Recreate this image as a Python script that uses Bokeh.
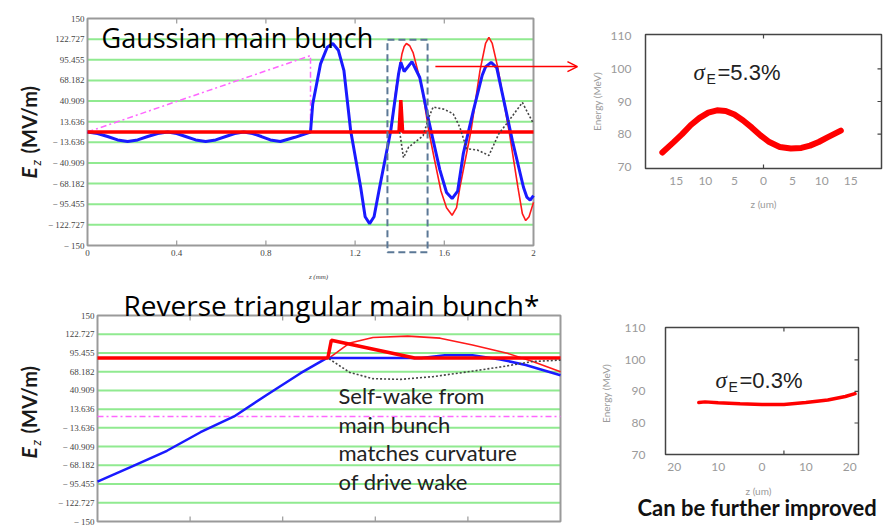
import math
from bokeh.plotting import figure
from bokeh.models import Range1d, Label, Arrow, OpenHead, BoxAnnotation
from bokeh.layouts import column, row
from bokeh.core.properties import value
from bokeh.embed import file_html
from bokeh.resources import INLINE

# ---------------- data ----------------
y_ticks = [-150, -122.727, -95.455, -68.182, -40.909, -13.636,
           13.636, 40.909, 68.182, 95.455, 122.727, 150]
y_tick_labels = ["\u2212 150", "\u2212 122.727", "\u2212 95.455", "\u2212 68.182", "\u2212 40.909",
                 "\u2212 13.636", "13.636", "40.909", "68.182", "95.455", "122.727", "150"]
x_ticks = [0, 0.4, 0.8, 1.2, 1.6, 2]
x_tick_labels = ["0", "0.4", "0.8", "1.2", "1.6", "2"]

# Gaussian main bunch panel
g_blue_x = [0, 0.045, 0.09, 0.135, 0.18, 0.225, 0.27, 0.315, 0.36, 0.40, 0.44, 0.485,
            0.53, 0.575, 0.62, 0.66, 0.70, 0.74, 0.78, 0.82, 0.865, 0.93, 1.0,
            1.01, 1.045, 1.075, 1.10, 1.125, 1.15, 1.18, 1.225, 1.245, 1.265, 1.285, 1.31,
            1.36, 1.395, 1.405, 1.42, 1.455, 1.49, 1.53, 1.58, 1.61, 1.635, 1.66, 1.685,
            1.73, 1.77, 1.785, 1.81, 1.835, 1.86, 1.905, 1.955, 1.97, 1.985, 2.0]
g_blue_y = [0, -2, -6, -10.5, -12.5, -10.5, -6, -2, 0, -2, -6, -10.5,
            -12.5, -10.5, -6, -2, 0, -2, -6, -10.5, -12.5, -7, 0,
            37, 90, 112, 117, 108, 81, 2, -73, -112, -121, -112, -73,
            2, 77, 92, 80, 93, 72, 15, -50, -80, -88, -78, -29,
            28, 75, 86, 92, 85, 51, -11, -73, -86, -90, -84]
g_red_thin_x = [1.36, 1.385, 1.41, 1.42, 1.43, 1.445, 1.46, 1.50, 1.53, 1.555, 1.585,
                1.61, 1.635, 1.655, 1.67, 1.72, 1.76, 1.785, 1.80, 1.815, 1.84, 1.89,
                1.93, 1.95, 1.965, 1.98, 2.0]
g_red_thin_y = [2, 60, 103, 113, 117, 114, 105, 59, 2, -35, -78,
                -100, -110, -100, -73, 2, 81, 117, 125, 117, 85, 2,
                -73, -108, -117, -112, -93]
g_red_thick_x = [0, 1.397, 1.405, 1.413, 2.0]
g_red_thick_y = [0, 0, 42, 0, 0]
g_dot_x = [1.40, 1.417, 1.44, 1.505, 1.53, 1.55, 1.60, 1.64, 1.67, 1.70, 1.75, 1.80,
           1.845, 1.89, 1.95, 2.0]
g_dot_y = [0, -34, -20, -5, 19, 33, 30, 24, 6, -22, -24, -31,
           -2, 15, 39, 11]
g_mag_x = [0, 1.0, 1.0]
g_mag_y = [0, 101, 0]

# Reverse triangular main bunch panel
r_blue_x = [0, 0.155, 0.30, 0.445, 0.59, 0.734, 0.877, 0.99, 1.2, 1.4, 1.5, 1.62,
            1.74, 1.85, 1.93, 2.0]
r_blue_y = [-92, -69, -47, -20, 3, 35, 66, 88, 88, 88, 92, 92,
            86, 78, 70, 63]
r_red_thick_x = [0, 0.995, 1.01, 1.37, 2.0]
r_red_thick_y = [88, 88, 114, 88, 88]
r_red_thin_x = [1.0, 1.09, 1.19, 1.34, 1.48, 1.62, 1.77, 1.88, 2.0]
r_red_thin_y = [88, 110, 118, 120, 117, 107, 95, 83, 68]
r_dot_x = [1.0, 1.09, 1.19, 1.31, 1.45, 1.60, 1.74, 1.88, 2.0]
r_dot_y = [87, 67, 58, 57, 61, 68, 75, 83, 85]
r_mag_x = [0, 2]
r_mag_y = [3, 3]

# Energy spectra
e1_z = [-17.4, -15.5, -14, -12.5, -11, -9.5, -8, -6.5, -5, -3.5, -2, -0.5, 1, 2.8,
        4.7, 6.5, 8, 9.5, 11, 13.3]
e1_E = [74.4, 77.5, 80, 82.8, 85, 86.6, 87.3, 87.1, 86, 84.2, 82, 79.6, 77.6, 76.1,
        75.6, 75.8, 76.5, 77.6, 79, 81.1]
e1_ticks = [-15, -10, -5, 0, 5, 10, 15]
e1_tick_labels = ["15", "10", "5", "0", "5", "10", "15"]
e2_z = [-14.4, -13, -10, -5, 0, 5, 10, 15, 19, 21.2]
e2_E = [86.5, 86.7, 86.4, 86.1, 85.9, 85.9, 86.5, 87.3, 88.4, 89.3]
e2_ticks = [-20, -10, 0, 10, 20]
e2_tick_labels = ["20", "10", "0", "10", "20"]
energy_ticks = [70, 80, 90, 100, 110]
energy_tick_labels = ["70", "80", "90", "100", "110"]
energy_side_ticks = [80, 90, 100]

# ---------------- styling ----------------
GRID_GREEN = "#90ea90"
FRAME_GRAY = "#9a9a9a"
LABEL_GRAY = "#444444"
E_GRAY = "#9a9a9a"


def panel(width, height, box_px, box_data):
    """Figure whose frame is the whole canvas; box_px = (left, right, top, bottom) pixel
    position of the data box box_data = (x0, x1, y0, y1)."""
    l, r, t, b = box_px
    x0, x1, y0, y1 = box_data
    sx = (r - l) / (x1 - x0)
    sy = (b - t) / (y1 - y0)
    p = figure(width=width, height=height,
               x_range=Range1d(x0 - l / sx, x1 + (width - r) / sx),
               y_range=Range1d(y0 - (height - b) / sy, y1 + t / sy),
               output_backend="svg", toolbar_location=None, min_border=0,
               x_axis_location=None, y_axis_location=None)
    p.outline_line_color = None
    p.grid.visible = False
    p.background_fill_color = "white"
    p.border_fill_color = "white"
    return p


def main_axes(p, with_xlabels):
    x0, x1 = x_ticks[0], x_ticks[-1]
    y0, y1 = y_ticks[0], y_ticks[-1]
    inner = y_ticks[1:-1]
    n = len(inner)
    p.segment(x0=[x0] * n, y0=inner, x1=[x1] * n, y1=inner,
              line_color=GRID_GREEN, line_width=2)
    p.quad(left=[x0], right=[x1], bottom=[y0], top=[y1],
           fill_color=None, line_color=FRAME_GRAY, line_width=2)
    mid = x_ticks[1:-1]
    p.ray(x=mid, y=[y0] * len(mid), length=5, length_units="screen", angle=math.pi / 2,
          line_color=FRAME_GRAY, line_width=1.2)
    p.ray(x=mid, y=[y1] * len(mid), length=5, length_units="screen", angle=-math.pi / 2,
          line_color=FRAME_GRAY, line_width=1.2)
    p.text(x=[x0] * len(y_ticks), y=y_ticks, text=y_tick_labels, x_offset=-3,
           text_align="right", text_baseline="middle", text_font=value("Liberation Serif"),
           text_font_size="9px", text_color=LABEL_GRAY)
    if with_xlabels:
        p.text(x=x_ticks, y=[y0] * len(x_ticks), text=x_tick_labels, y_offset=4,
               text_align="center", text_baseline="top", text_font=value("Liberation Serif"),
               text_font_size="9px", text_color=LABEL_GRAY)


def ez_label(p, x, y_e):
    p.add_layout(Label(x=x, y=y_e, x_units="screen", y_units="screen", text="E",
                       angle=math.pi / 2, text_align="left", text_baseline="middle",
                       text_font="Lato", text_font_size="21px",
                       text_font_style="bold italic", text_color="#1a1a1a"))
    p.add_layout(Label(x=x + 7, y=y_e + 13, x_units="screen", y_units="screen", text="z",
                       angle=math.pi / 2, text_align="left", text_baseline="middle",
                       text_font="Lato", text_font_size="13px",
                       text_font_style="italic", text_color="#1a1a1a"))
    p.add_layout(Label(x=x, y=y_e + 25, x_units="screen", y_units="screen", text="(MV/m)",
                       angle=math.pi / 2, text_align="left", text_baseline="middle",
                       text_font="Lato", text_font_size="20px",
                       text_font_style="bold", text_color="#1a1a1a"))


def energy_axes(p, xr, yr, ticks, tick_labels, top_tick, ylab_off, xlabel_pos, ylabel_pos):
    x0, x1 = xr
    y0, y1 = yr
    p.quad(left=[x0], right=[x1], bottom=[y0], top=[y1],
           fill_color=None, line_color="#444444", line_width=1.5)
    p.ray(x=[top_tick], y=[y1], length=4, length_units="screen", angle=-math.pi / 2,
          line_color="#444444", line_width=1.2)
    p.ray(x=[top_tick], y=[y0], length=4, length_units="screen", angle=math.pi / 2,
          line_color="#444444", line_width=1.2)
    p.ray(x=[x1] * len(energy_side_ticks), y=energy_side_ticks, length=4,
          length_units="screen", angle=math.pi, line_color="#444444", line_width=1.2)
    p.text(x=ticks, y=[y0] * len(ticks), text=tick_labels, y_offset=8,
           text_align="center", text_baseline="top", text_font=value("Lato"),
           text_font_size="12px", text_color=E_GRAY)
    p.text(x=[x0] * len(energy_ticks), y=energy_ticks, text=energy_tick_labels,
           x_offset=ylab_off, text_align="right", text_baseline="middle",
           text_font=value("Lato"), text_font_size="12px", text_color=E_GRAY)
    p.add_layout(Label(x=xlabel_pos[0], y=xlabel_pos[1], x_units="screen", y_units="screen",
                       text="z (um)", text_align="center", text_baseline="middle",
                       text_font="Lato", text_font_size="10px", text_color=E_GRAY))
    p.add_layout(Label(x=ylabel_pos[0], y=ylabel_pos[1], x_units="screen", y_units="screen",
                       text="Energy (MeV)", angle=math.pi / 2, text_align="center",
                       text_baseline="middle", text_font="Lato", text_font_size="10px",
                       text_color=E_GRAY))


def sigma_label(p, x, y, txt):
    p.add_layout(Label(x=x, y=y, x_units="screen", y_units="screen", text="\u03c3",
                       text_align="left", text_baseline="middle", text_font="Liberation Serif",
                       text_font_size="23px", text_font_style="italic", text_color="#222222"))
    p.add_layout(Label(x=x + 13, y=y - 6, x_units="screen", y_units="screen", text="E",
                       text_align="left", text_baseline="middle", text_font="Liberation Sans",
                       text_font_size="14px", text_color="#222222"))
    p.add_layout(Label(x=x + 24, y=y, x_units="screen", y_units="screen", text=txt,
                       text_align="left", text_baseline="middle", text_font="Liberation Sans",
                       text_font_size="22px", text_color="#222222"))


# ---------------- top-left: Gaussian main bunch (canvas 585x280) ----------------
p1 = panel(585, 280, (87, 533, 18, 245), (x_ticks[0], x_ticks[-1], y_ticks[0], y_ticks[-1]))
main_axes(p1, True)
p1.line(g_mag_x, g_mag_y, line_color="#ff66ff", line_width=1.5, line_dash="6 3 2 3")
p1.line(g_red_thin_x, g_red_thin_y, line_color="#ff1a1a", line_width=1.6)
p1.line(g_blue_x, g_blue_y, line_color="#1a1aff", line_width=3)
p1.line(g_red_thick_x, g_red_thick_y, line_color="#ff0000", line_width=3.5)
p1.line(g_dot_x, g_dot_y, line_color="#444444", line_width=1.6, line_dash="2 2")
p1.add_layout(BoxAnnotation(left=1.345, right=1.525, bottom=-159, top=122,
                            fill_alpha=0, line_color="#5b7896", line_alpha=1, line_width=2,
                            line_dash="7 4"))
p1.add_layout(Arrow(end=OpenHead(size=10, line_color="#ff0000", line_width=1.5),
                    x_start=1.56, y_start=86.5, x_end=2.197, y_end=86.5,
                    line_color="#ff0000", line_width=1.5))
p1.add_layout(Label(x=101, y=280 - 37, x_units="screen", y_units="screen",
                    text="Gaussian main bunch", text_font="Open Sans",
                    text_font_size="27px", text_color="#000000",
                    text_baseline="alphabetic"))
p1.add_layout(Label(x=318, y=280 - 276, x_units="screen", y_units="screen",
                    text="z (mm)", text_font="Liberation Serif", text_font_style="italic",
                    text_font_size="7px", text_color=LABEL_GRAY, text_align="center",
                    text_baseline="middle"))
ez_label(p1, 28, 280 - 178)

# ---------------- top-right: energy (canvas 310x280) ----------------
p2 = panel(310, 280, (60, 296, 34, 168), (-20.3, 20.3, 69.5, 110.5))
energy_axes(p2, (-20.3, 20.3), (69.5, 110.5), e1_ticks, e1_tick_labels, 0, -14,
            (178, 280 - 203), (11, 280 - 101))
p2.line(e1_z, e1_E, line_color="#ff0000", line_width=6, line_cap="round")
sigma_label(p2, 108, 280 - 72, "=5.3%")

# ---------------- bottom-left: Reverse triangular (canvas 590x247) ----------------
p3 = panel(590, 247, (97, 560, 35, 241), (x_ticks[0], x_ticks[-1], y_ticks[0], y_ticks[-1]))
main_axes(p3, False)
p3.line(r_mag_x, r_mag_y, line_color="#ff66ff", line_width=1.5, line_dash="6 3 2 3")
p3.line(r_red_thin_x, r_red_thin_y, line_color="#ff1a1a", line_width=1.6)
p3.line(r_blue_x, r_blue_y, line_color="#1a1aff", line_width=2.5)
p3.line(r_red_thick_x, r_red_thick_y, line_color="#ff0000", line_width=3.5)
p3.line(r_dot_x, r_dot_y, line_color="#444444", line_width=1.6, line_dash="2 2")
p3.add_layout(Label(x=123, y=247 - 24, x_units="screen", y_units="screen",
                    text="Reverse triangular main bunch*", text_font="Open Sans",
                    text_font_size="28px", text_color="#000000", text_baseline="alphabetic"))
for i, line in enumerate(["Self-wake from", "main bunch", "matches curvature", "of drive wake"]):
    p3.add_layout(Label(x=338, y=132 - 28.5 * i, x_units="screen", y_units="screen",
                        text=line, text_font="Lato", text_font_size="22px",
                        text_color="#222222", text_baseline="middle"))
ez_label(p3, 28, 247 - 178)

# ---------------- bottom-right: energy (canvas 305x247) ----------------
p4 = panel(305, 247, (75, 268, 47, 174), (-22, 22, 70, 110.3))
energy_axes(p4, (-22, 22), (70, 110.3), e2_ticks, e2_tick_labels, 5, -20,
            (168, 247 - 210), (15, 247 - 113))
p4.line(e2_z, e2_E, line_color="#ff0000", line_width=3.5, line_cap="round")
sigma_label(p4, 125, 247 - 100, "=0.3%")
p4.add_layout(Label(x=47, y=20, x_units="screen", y_units="screen",
                    text="Can be further improved", text_font="Lato",
                    text_font_size="22px", text_font_style="bold", text_color="#111111",
                    text_baseline="middle"))

layout = column(row(p1, p2), row(p3, p4))
open("out.html", "w").write(file_html(layout, INLINE))
